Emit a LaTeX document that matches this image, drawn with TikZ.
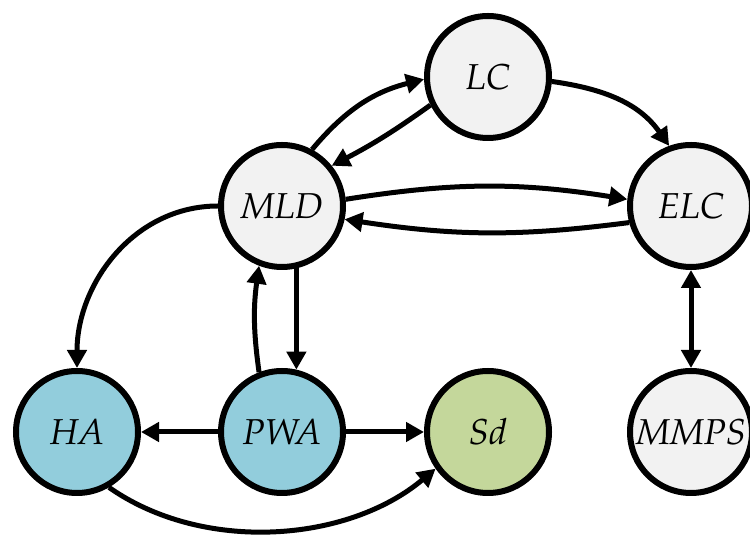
\documentclass[tikz,border=0pt]{standalone}
\usetikzlibrary{arrows.meta}
\definecolor{nodegray}{HTML}{F2F2F2}
\definecolor{nodeblue}{HTML}{92CDDC}
\definecolor{nodegreen}{HTML}{C4D79B}
\begin{document}
\begin{tikzpicture}[x=1pt,y=1pt,
  state/.style={circle, draw=black, line width=6pt, minimum size=122pt, inner sep=0pt,
    fill=nodegray, font=\fontencoding{OT1}\fontfamily{ppl}\fontsize{36}{40}\itshape\selectfont},
  tip/.tip={Triangle[length=18pt,width=19pt]},
  link/.style={line width=5pt, -tip},
  bilink/.style={line width=5pt, tip-tip}]
\useasboundingbox (0,0) rectangle (750,538);

% states
\node[state] (lc)   at (488,461) {LC};
\node[state] (mld)  at (282,332) {MLD};
\node[state] (elc)  at (691,332) {ELC};
\node[state, fill=nodeblue]  (ha)   at (77,106)  {HA};
\node[state, fill=nodeblue]  (pwa)  at (282,106) {PWA};
\node[state, fill=nodegreen] (sd)   at (488,106) {Sd};
\node[state] (mmps) at (691,106) {MMPS};

% transitions
\draw[link] (mld.62) to[bend left=18] (lc.182);
\draw[link] (lc.206) to[bend left=4] (mld.39);
\draw[link] (lc.-4) to[out=-8,in=125] (elc.110);
\draw[link] (mld.6) to[bend left=9] (elc.174);
\draw[link] (elc.195) to[bend left=8] (mld.-12);
\draw[link] (mld.west) to[out=180,in=90] (ha.north);
\draw[link] (pwa.111) to[bend left=8] (mld.249);
\draw[link] (mld.-77) -- (pwa.77);
\draw[link] (pwa) -- (ha);
\draw[link] (pwa) -- (sd);
\draw[link] (ha.-60) to[out=-35,in=-140,looseness=0.9] (sd.-145);
\draw[bilink] (elc) -- (mmps);
\end{tikzpicture}
\end{document}
